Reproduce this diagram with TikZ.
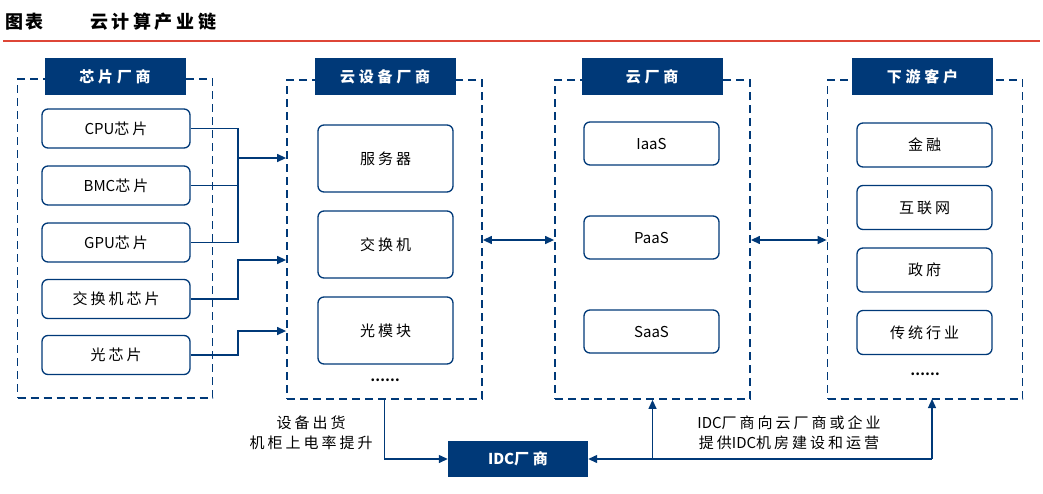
\documentclass[tikz,border=0pt]{standalone}
\usepackage{fontspec}
\setmainfont{Noto Sans CJK SC}
\usetikzlibrary{arrows.meta}
\definecolor{navy}{RGB}{0,57,120}
\definecolor{hred}{RGB}{222,70,55}
\newcommand\lat[1]{{\addfontfeature{LetterSpace=0}#1}}
\tikzset{
  grp/.style={draw=navy,line width=1.8pt,dash pattern=on 8pt off 5pt,minimum width=195pt,minimum height=319pt,inner sep=0pt},
  ttl/.style={fill=navy,text=white,minimum width=141pt,minimum height=37pt,inner sep=0pt,font=\fontsize{15}{17}\selectfont\bfseries\addfontfeature{LetterSpace=25}},
  itm/.style={draw=navy,line width=1.3pt,rounded corners=6pt,text=black,inner sep=0pt,font=\fontsize{15}{17}\selectfont\addfontfeature{LetterSpace=20}},
  conn/.style={draw=navy,line width=1.3pt},
  arr/.style={conn,-{Triangle[length=9pt,width=8pt]}},
  darr/.style={conn,{Triangle[length=9pt,width=8pt]}-{Triangle[length=9pt,width=8pt]}},
  lbl/.style={align=center,font=\fontsize{15}{20}\selectfont\addfontfeature{LetterSpace=20},inner sep=0pt},
}
\begin{document}
\begin{tikzpicture}[x=1pt,y=-1pt]
\useasboundingbox (0,0) rectangle (1043,493);
% header
\node[anchor=west,inner sep=0pt,font=\fontsize{18}{20}\selectfont\bfseries\addfontfeature{LetterSpace=12}] (hd1) at (5,22) {图表};
\node[anchor=west,inner sep=0pt,font=\fontsize{18}{20}\selectfont\bfseries\addfontfeature{LetterSpace=20}] (hd2) at (90,22) {云计算产业链};
\coordinate (rl) at (3,41);
\coordinate (rr) at (1040,41);
\draw[hred,line width=1.3pt] (rl) -- (rr);
% groups
\node[grp] (g1) at (115,238.5) {};
\node[grp] (g2) at (384.5,239.5) {};
\node[grp] (g3) at (652.5,239.5) {};
\node[grp] (g4) at (925,239.5) {};
\node[ttl] (t1) at (115,76.5) {芯片厂商};
\node[ttl] (t2) at (385,76.5) {云设备厂商};
\node[ttl] (t3) at (652,76.5) {云厂商};
\node[ttl] (t4) at (922.5,76.5) {下游客户};
% group 1 items
\node[itm,minimum width=148pt,minimum height=39pt] (cpu) at (116,128.5) {\lat{CPU}芯片};
\node[itm,minimum width=148pt,minimum height=39pt] (bmc) at (116,185.5) {\lat{BMC}芯片};
\node[itm,minimum width=148pt,minimum height=39pt] (gpu) at (116,242.5) {\lat{GPU}芯片};
\node[itm,minimum width=148pt,minimum height=39pt] (swc) at (116,299) {交换机芯片};
\node[itm,minimum width=148pt,minimum height=39pt] (opc) at (116,355) {光芯片};
% group 2 items
\node[itm,minimum width=135pt,minimum height=67pt] (srv) at (385.5,158.5) {服务器};
\node[itm,minimum width=135pt,minimum height=67pt] (sw) at (385.5,244.5) {交换机};
\node[itm,minimum width=135pt,minimum height=67pt] (om) at (385.5,330.5) {光模块};
\node[inner sep=0pt,font=\fontsize{13}{15}\selectfont\bfseries] (d2) at (385,380) {……};
% group 3 items
\node[itm,minimum width=135pt,minimum height=43pt] (iaas) at (651.5,143.5) {\lat{IaaS}};
\node[itm,minimum width=135pt,minimum height=43pt] (paas) at (651.5,237.5) {\lat{PaaS}};
\node[itm,minimum width=135pt,minimum height=43pt] (saas) at (651.5,331.5) {\lat{SaaS}};
% group 4 items
\node[itm,minimum width=135pt,minimum height=44pt] (fin) at (924.5,145) {金融};
\node[itm,minimum width=135pt,minimum height=44pt] (net) at (924.5,207.5) {互联网};
\node[itm,minimum width=135pt,minimum height=44pt] (gov) at (924.5,270) {政府};
\node[itm,minimum width=135pt,minimum height=44pt] (trd) at (924.5,332.5) {传统行业};
\node[inner sep=0pt,font=\fontsize{13}{15}\selectfont\bfseries] (d4) at (925,374) {……};
% IDC
\node[ttl,minimum width=140pt,minimum height=36pt] (idc) at (518,459) {\lat{IDC}厂商};
% chip connectors
\coordinate (j1) at (238,158);
\coordinate (j2) at (238,260);
\coordinate (j3) at (238,331);
\draw[conn] (cpu.east) -- (cpu.east -| j1) -- (gpu.east -| j1) -- (gpu.east);
\draw[conn] (bmc.east) -- (bmc.east -| j1);
\draw[arr] (j1) -- (j1 -| g2.west);
\draw[arr] (swc.east) -| (j2) -- (j2 -| g2.west);
\draw[arr] (opc.east) -| (j3) -- (j3 -| g2.west);
% double arrows
\coordinate (m1) at (483,240);
\coordinate (m2) at (750,240);
\draw[darr] (m1 -| g2.east) -- (m1 -| g3.west);
\draw[darr] (m2 -| g3.east) -- (m2 -| g4.west);
% bottom
\draw[arr] (g2.south) |- (idc.west);
\coordinate (b4) at (932,399);
\draw[arr] (b4 |- idc.east) -- (b4);
\draw[arr] (b4 |- idc.east) -- (idc.east);
\draw[arr] (g3.south |- idc.east) -- (g3.south);
\node[lbl] (l1) at (311,433) {设备出货\\机柜上电率提升};
\node[lbl] (l2) at (789,433) {\lat{IDC}厂商向云厂商或企业\\提供\lat{IDC}机房建设和运营};
\end{tikzpicture}
\end{document}
